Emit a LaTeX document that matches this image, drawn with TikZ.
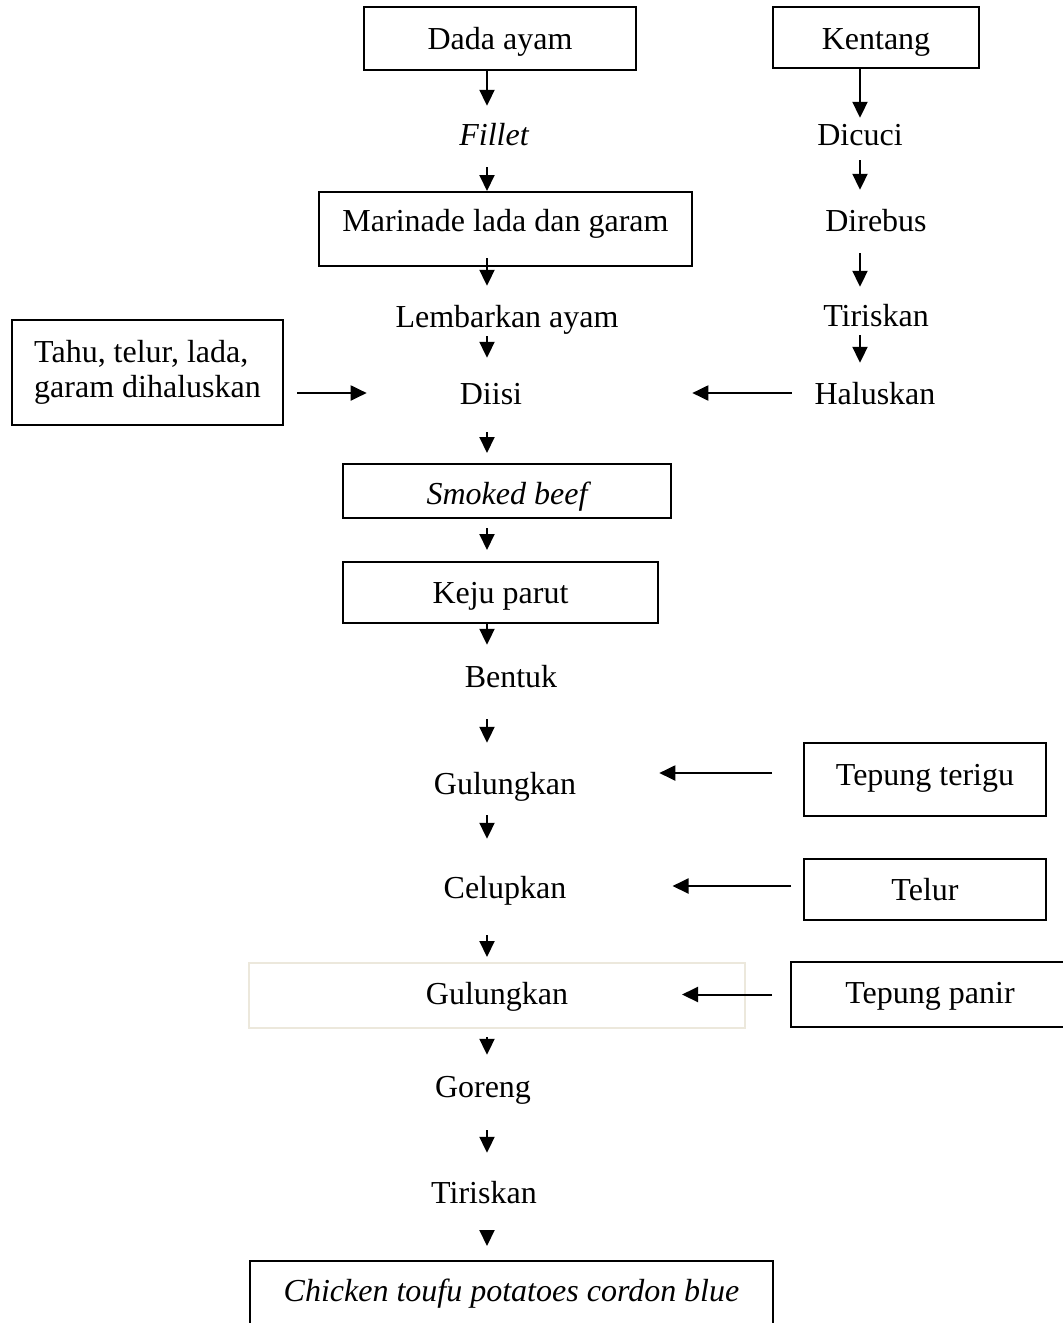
\documentclass[tikz,border=0pt]{standalone}
\usepackage{fontspec}
\setmainfont{Liberation Serif}
\usetikzlibrary{arrows.meta}
\definecolor{paleedge}{HTML}{ECE8DC}
\tikzset{
  txt/.style={inner sep=0pt, text height=22pt, text depth=7pt, anchor=base},
  boxed/.style={draw, line width=2pt, inner sep=0pt, anchor=base},
  arr/.style={line width=2pt, -{Triangle[length=16pt,width=15pt]}},
}
\begin{document}
\begin{tikzpicture}[x=1pt, y=-1pt, font=\fontsize{32}{35}\selectfont]
\useasboundingbox (0,0) rectangle (1063,1323);
\clip (0,0) rectangle (1063,1323);

% arrow columns
\coordinate (mainx) at (487,0);
\coordinate (sidex) at (860,0);

% chicken branch
\node[boxed, minimum width=272pt, text height=42pt, text depth=21pt] (dada) at (500,49) {Dada ayam};
\node[txt] (fillet) at (494,145) {\itshape Fillet};
\node[boxed, minimum width=373pt, text height=39pt, text depth=35pt] (marinade) at (505.5,231) {Marinade lada dan garam};
\node[txt] (lembar) at (507,327) {Lembarkan ayam};
\node[txt, text depth=0pt] (diisi) at (491,404) {Diisi};

% potato branch
\node[boxed, minimum width=206pt, text height=42pt, text depth=19pt] (kentang) at (876,49) {Kentang};
\node[txt] (dicuci) at (860,145) {Dicuci};
\node[txt] (direbus) at (876,231) {Direbus};
\node[txt] (tirisR) at (876,326) {Tiriskan};
\node[txt, text depth=0pt] (halus) at (875,404) {Haluskan};

% filling
\node[draw, line width=2pt, inner sep=0pt, minimum width=271pt, minimum height=105pt, align=left]
  (tahu) at (147.5,372.5) {Tahu, telur, lada,\\garam dihaluskan};

% main line
\node[boxed, minimum width=328pt, text height=40pt, text depth=14pt] (smoked) at (507,504) {\itshape Smoked beef};
\node[boxed, minimum width=315pt, text height=41pt, text depth=20pt] (keju) at (500.5,603) {Keju parut};
\node[txt] (bentuk) at (511,687) {Bentuk};
\node[txt] (gul1) at (505,794) {Gulungkan};
\node[txt] (celup) at (505,898) {Celupkan};
\node[boxed, draw=paleedge, minimum width=496pt, text height=41pt, text depth=24pt] (gul2) at (497,1004) {Gulungkan};
\node[txt] (goreng) at (483,1097) {Goreng};
\node[txt] (tiris2) at (484,1203) {Tiriskan};
\node[boxed, minimum width=523pt, text height=40pt, text depth=40pt] (chicken) at (511.5,1301) {\itshape Chicken toufu potatoes cordon blue};

% coatings
\node[boxed, minimum width=242pt, text height=42pt, text depth=31pt] (terigu) at (925,785) {Tepung terigu};
\node[boxed, minimum width=242pt, text height=41pt, text depth=20pt] (telur) at (925,900) {Telur};
\node[boxed, minimum width=278pt, text height=41pt, text depth=24pt] (panir) at (930,1003) {Tepung panir};

% vertical flow, main column
\draw[arr, shorten >=17pt] (dada.south -| mainx) -- (fillet.north -| mainx);
\draw[arr, shorten <=15pt] (fillet.south -| mainx) -- (marinade.north -| mainx);
\draw[arr, shorten <=-9pt, shorten >=19pt] (marinade.south -| mainx) -- (lembar.north -| mainx);
\draw[arr, shorten <=2pt, shorten >=24pt] (lembar.south -| mainx) -- (diisi.north -| mainx);
\draw[arr, shorten <=28pt, shorten >=10pt] (diisi.south -| mainx) -- (smoked.north -| mainx);
\draw[arr, shorten <=9pt, shorten >=11pt] (smoked.south -| mainx) -- (keju.north -| mainx);
\draw[arr, shorten >=20pt] (keju.south -| mainx) -- (bentuk.north -| mainx);
\draw[arr, shorten <=25pt, shorten >=29pt] (bentuk.south -| mainx) -- (gul1.north -| mainx);
\draw[arr, shorten <=14pt, shorten >=37pt] (gul1.south -| mainx) -- (celup.north -| mainx);
\draw[arr, shorten <=30pt, shorten >=5pt] (celup.south -| mainx) -- (gul2.north -| mainx);
\draw[arr, shorten <=8pt, shorten >=20pt] (gul2.south -| mainx) -- (goreng.north -| mainx);
\draw[arr, shorten <=26pt, shorten >=28pt] (goreng.south -| mainx) -- (tiris2.north -| mainx);
\draw[arr, shorten <=20pt, shorten >=14pt] (tiris2.south -| mainx) -- (chicken.north -| mainx);

% vertical flow, potato column
\draw[arr, shorten >=5pt] (kentang.south -| sidex) -- (dicuci.north -| sidex);
\draw[arr, shorten <=8pt, shorten >=19pt] (dicuci.south -| sidex) -- (direbus.north -| sidex);
\draw[arr, shorten <=15pt, shorten >=17pt] (direbus.south -| sidex) -- (tirisR.north -| sidex);
\draw[arr, shorten <=2pt, shorten >=19pt] (tirisR.south -| sidex) -- (halus.north -| sidex);

% side inputs
\draw[arr, shorten <=13pt, shorten >=93pt] (tahu.east |- diisi.west) -- (diisi.west);
\draw[arr, shorten <=22.6pt, shorten >=170pt] (halus.west) -- (diisi.east);
\draw[arr, shorten <=31pt, shorten >=83pt] ([yshift=6.5pt]terigu.west) -- ([yshift=6.5pt]terigu.west -| gul1.east);
\draw[arr, shorten <=12pt, shorten >=106pt] ([yshift=3.5pt]telur.west) -- ([yshift=3.5pt]telur.west -| celup.east);
\draw[arr, shorten <=18pt, shorten >=185pt] (panir.west) -- (panir.west -| gul2.center);
\end{tikzpicture}
\end{document}
